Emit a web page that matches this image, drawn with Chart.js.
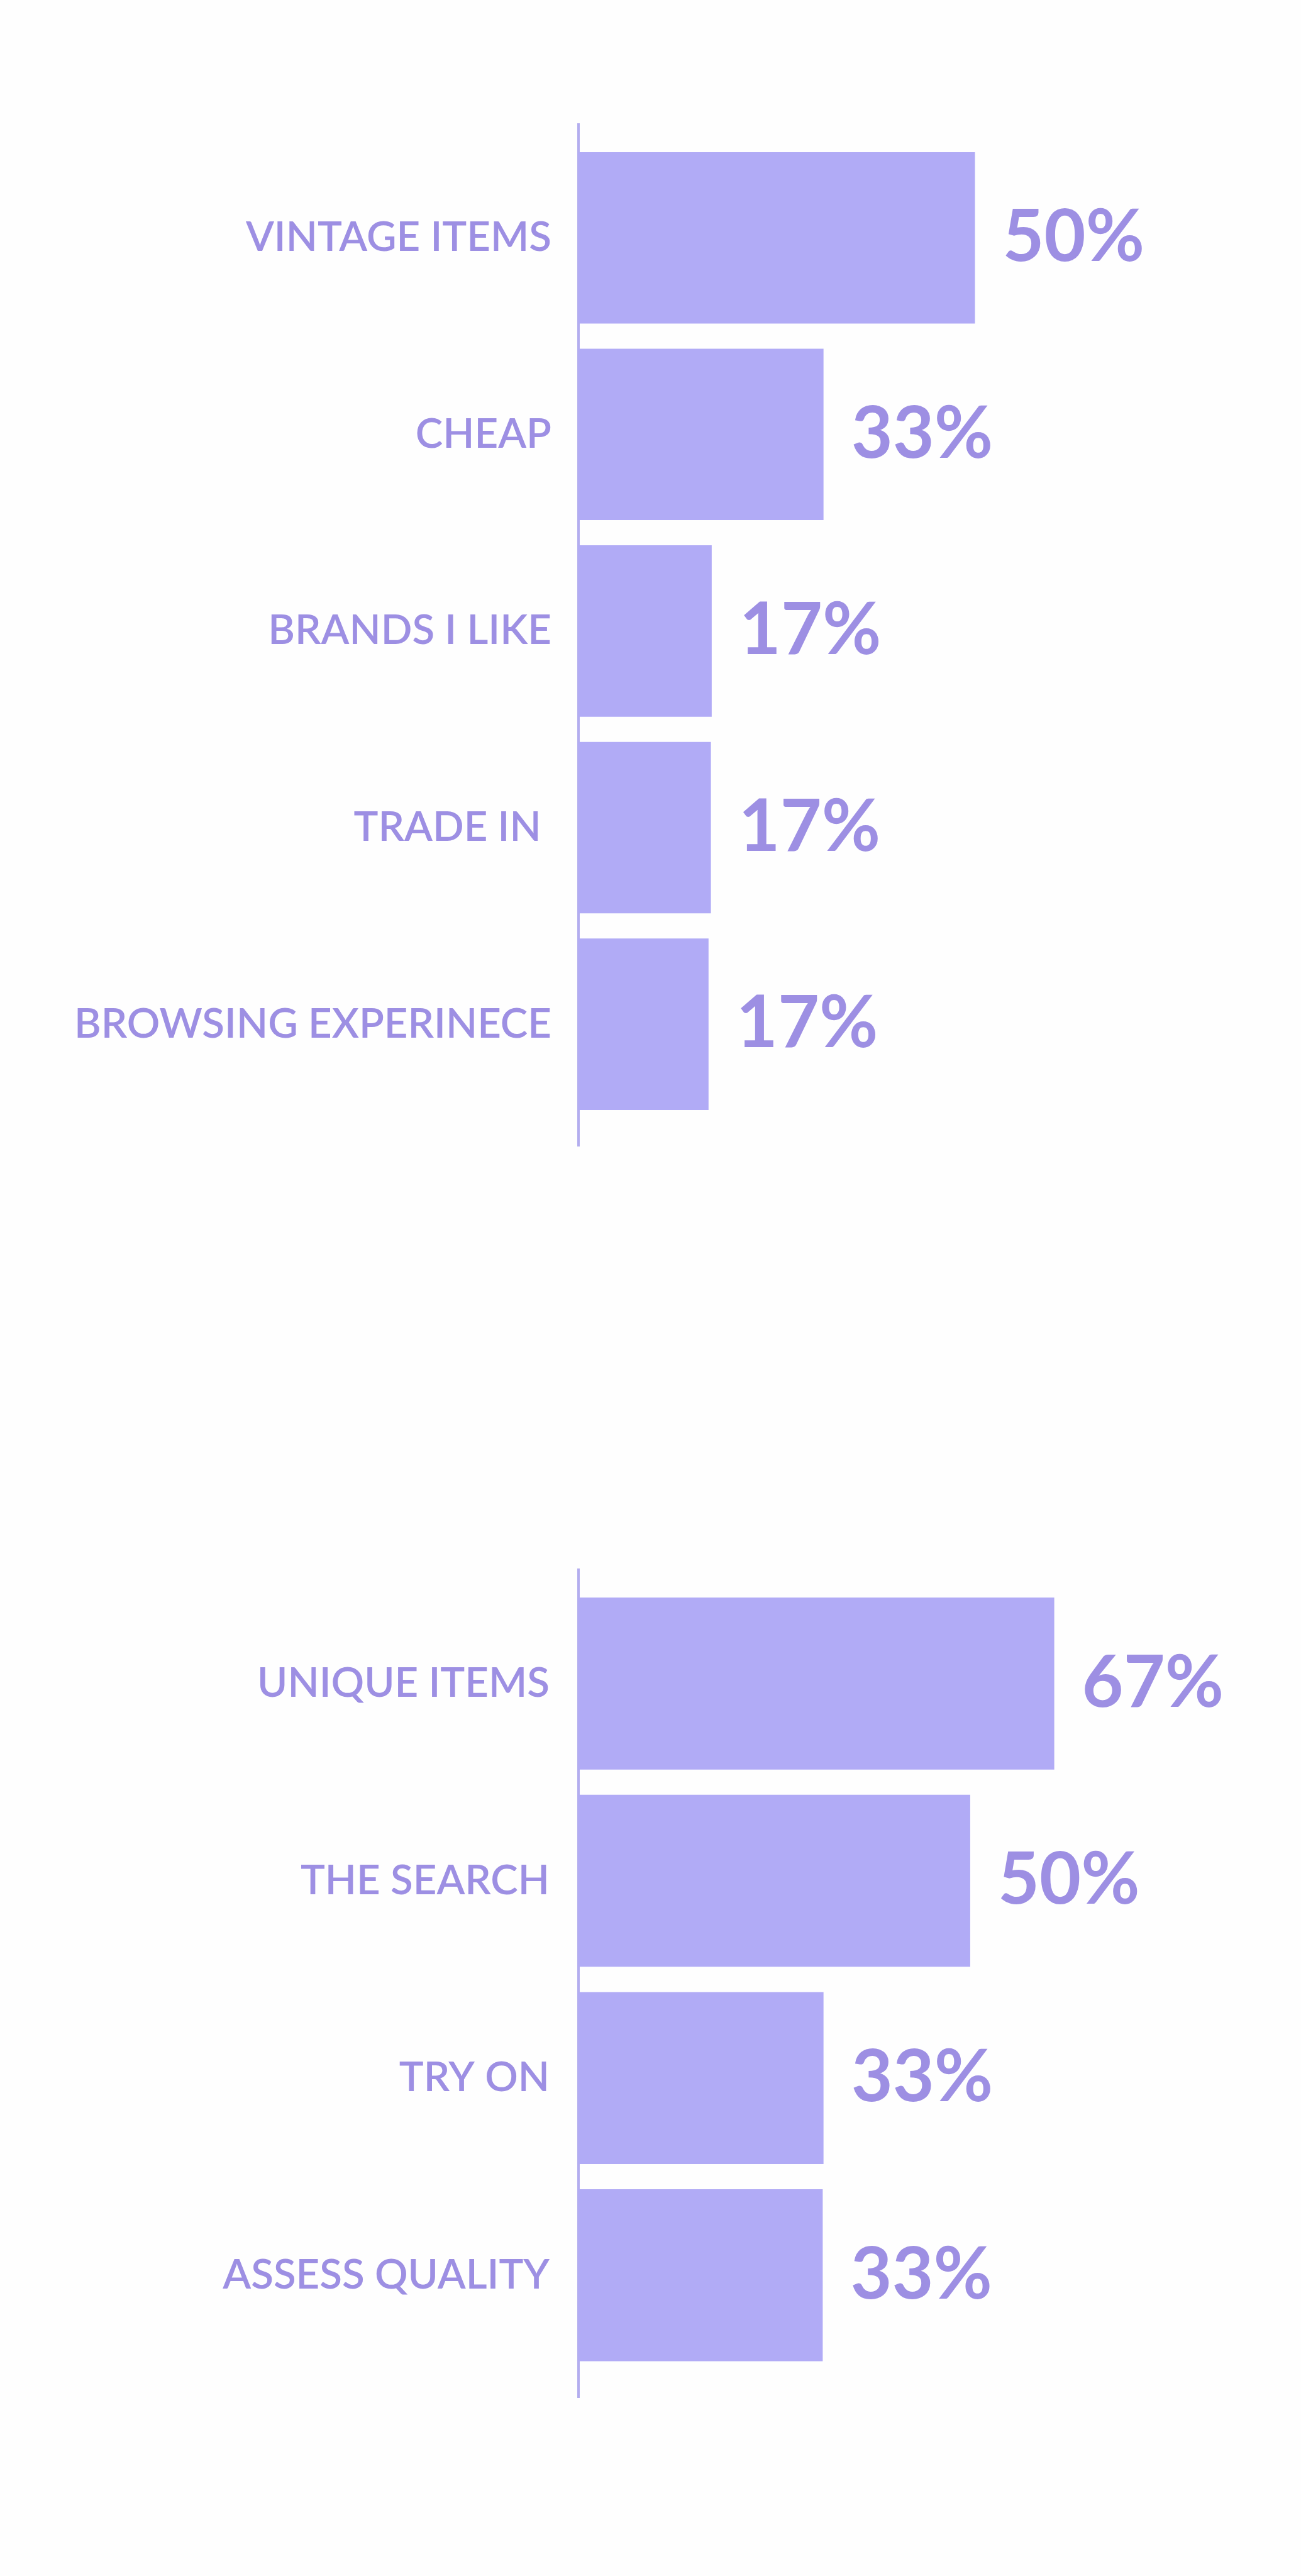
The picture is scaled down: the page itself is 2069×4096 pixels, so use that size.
<!DOCTYPE html>
<html><head><meta charset="utf-8">
<script src="https://cdn.jsdelivr.net/npm/chart.js@4.4.1/dist/chart.umd.min.js"></script>
<style>
html,body{margin:0;padding:0;background:#fefefe;}
body{width:2069px;height:4096px;position:relative;overflow:hidden;}
.box{position:absolute;left:0;width:2069px;height:2048px;}
#b1{top:0;}
#b2{top:2048px;}
</style></head><body>
<div class="box" id="b1"><canvas id="c1"></canvas></div>
<div class="box" id="b2"><canvas id="c2"></canvas></div>
<script>
// ---- data (bar lengths, in % units) ----
const categories1 = ['VINTAGE ITEMS', 'CHEAP', 'BRANDS I LIKE', 'TRADE IN ', 'BROWSING EXPERINECE'];
const values1 = [50.0, 30.9, 16.8, 16.7, 16.4];
const valueLabels1 = ['50%', '33%', '17%', '17%', '17%'];

const categories2 = ['UNIQUE ITEMS', 'THE SEARCH', 'TRY ON', 'ASSESS QUALITY'];
const values2 = [60.0, 49.4, 30.9, 30.8];
const valueLabels2 = ['67%', '50%', '33%', '33%'];

// ---- styling / layout ----
const S = 0.973;
const W = 2069;
const BAR = '#B1ABF6';
const TEXT = '#9D8FE3';
const AXIS = '#B3ADEF';
const FAMILY = 'Lato';
const axisX = 920;            // left edge of plot area (axis line)
const pxPerUnit = 12.96 * S;  // horizontal scale
const xMax = 90;
const padBefore = 0.578;      // axis line extension above first band (in band units)
const padAfter = 0.62;        // axis line extension below last band

const mctx = document.createElement('canvas').getContext('2d');
function fitSize(weight, text, targetW, capText, targetH) {
  mctx.font = weight + ' 100px ' + FAMILY;
  const m = mctx.measureText(text);
  const w = m.actualBoundingBoxLeft + m.actualBoundingBoxRight;
  const c = mctx.measureText(capText);
  const h = c.actualBoundingBoxAscent + c.actualBoundingBoxDescent;
  return ((targetW / w) * 100 + (targetH / h) * 100) / 2;
}
const labelSize = fitSize(600, 'BROWSING EXPERINECE', 766 * S, 'H', 49.5 * S);
const pctSize = fitSize(700, '50%', 233 * S, '5', 82 * S);

const valueLabelPlugin = {
  id: 'valueLabels',
  afterDatasetsDraw(chart, args, opts) {
    const ctx = chart.ctx;
    const meta = chart.getDatasetMeta(0);
    ctx.save();
    ctx.font = '700 ' + pctSize + 'px ' + FAMILY;
    ctx.fillStyle = TEXT;
    ctx.textAlign = 'left';
    ctx.textBaseline = 'middle';
    meta.data.forEach((bar, i) => {
      ctx.fillText(opts.labels[i], bar.x + 44, bar.y);
    });
    ctx.restore();
  }
};

function makeChart(id, cats, vals, labels, padTop, padBottom, tickPad) {
  const data = vals.map((v, i) => ({ x: v, y: i }));
  const yMin = -padBefore, yMax = cats.length - 1 + padAfter;
  return new Chart(document.getElementById(id), {
    type: 'bar',
    data: {
      datasets: [{
        data: data,
        backgroundColor: BAR,
        borderWidth: 0,
        barPercentage: 0.872,
        categoryPercentage: 1
      }]
    },
    plugins: [valueLabelPlugin],
    options: {
      indexAxis: 'y',
      responsive: true,
      maintainAspectRatio: false,
      animation: false,
      devicePixelRatio: 1,
      layout: {
        padding: {
          left: 0,
          top: padTop,
          bottom: padBottom,
          right: W - axisX - xMax * pxPerUnit
        }
      },
      plugins: {
        legend: { display: false },
        tooltip: { enabled: false },
        valueLabels: { labels: labels }
      },
      scales: {
        x: {
          type: 'linear',
          min: 0,
          max: xMax,
          display: false
        },
        y: {
          type: 'linear',
          reverse: true,
          offset: false,
          bounds: 'data',
          grace: 0,
          min: yMin,
          max: yMax,
          afterDataLimits(scale) { scale.min = yMin; scale.max = yMax; },
          afterBuildTicks(scale) { scale.ticks = cats.map((c, i) => ({ value: i })); },
          afterFit(scale) { scale.width = axisX; },
          grid: { display: false, drawTicks: false, offset: false },
          border: { display: true, color: AXIS, width: 4 },
          ticks: {
            autoSkip: false,
            padding: tickPad,
            color: TEXT,
            font: { family: FAMILY, size: labelSize, weight: 600 },
            callback: (v) => (Number.isInteger(v) && cats[v] !== undefined) ? cats[v] : ''
          }
        }
      }
    }
  });
}

makeChart('c1', categories1, values1, valueLabels1, 197.5, 2048 - 1822.4, 43);
makeChart('c2', categories2, values2, valueLabels2, 2495.7 - 2048, 2048 - (3812.2 - 2048), 46);
</script>
</body></html>
